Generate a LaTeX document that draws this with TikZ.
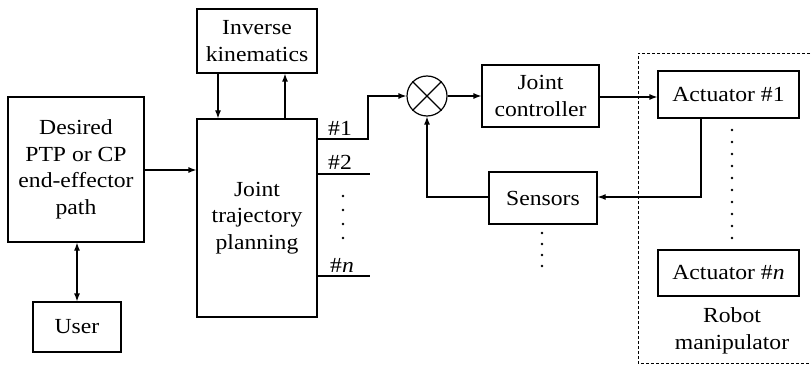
\documentclass[tikz,border=0pt]{standalone}
\usepackage{fontspec}
\setmainfont{Liberation Serif}[FakeStretch=1.1]
\usetikzlibrary{arrows.meta}
\begin{document}
\begin{tikzpicture}[x=1pt,y=-1pt,
  line width=1.2pt,
  font=\fontsize{21.5}{26.5}\selectfont,
  blk/.style={draw, rectangle, align=center, inner sep=0pt},
  arr/.style={-{Latex[length=8pt,width=6pt]}},
  dbl/.style={{Latex[length=8pt,width=6pt]}-{Latex[length=8pt,width=6pt]}},
  lbl/.style={inner sep=0pt},
  dotmark/.style={fill, circle, inner sep=0pt, minimum size=2.6pt}
]
\useasboundingbox (0,0) rectangle (811,366);

% blocks
\node[blk, minimum width=136pt, minimum height=145pt] (des) at (76,169.5)
  {Desired\\PTP or CP\\end-effector\\path};
\node[blk, minimum width=88pt, minimum height=50pt] (user) at (77,327) {User};
\node[blk, minimum width=120pt, minimum height=64pt] (ik) at (257,41)
  {Inverse\\kinematics};
\node[blk, minimum width=120pt, minimum height=198pt] (jtp) at (257,218)
  {Joint\\trajectory\\planning};
\node[draw, circle, minimum size=40pt, inner sep=0pt] (sum) at (427,96) {};
\draw (sum.north east) -- (sum.south west) (sum.north west) -- (sum.south east);
\node[blk, minimum width=117pt, minimum height=62pt] (jc) at (540.5,96)
  {Joint\\controller};
\node[blk, minimum width=141pt, minimum height=47pt] (act1) at (728.5,94.5)
  {Actuator \#1};
\node[blk, minimum width=108pt, minimum height=52pt] (sens) at (543,198)
  {Sensors};
\node[blk, minimum width=141pt, minimum height=46pt] (actn) at (728.5,273)
  {Actuator \#\textit{n}};
\node[lbl, align=center] (robot) at (732,331) {Robot\\manipulator};

% robot manipulator enclosure
\draw[dashed, dash pattern=on 3pt off 2pt, line width=0.9pt]
  (815,53) -- (638,53) -- (638,363) -- (815,363);

% joint outputs
\node[lbl] (l1) at (340,128) {\#1};
\node[lbl] (l2) at (340,162) {\#2};
\node[lbl] (ln) at (342,265) {\#\textit{n}};
\coordinate (o1) at (jtp.east |- 0,139);
\coordinate (b1) at (368,139);
\coordinate (o2) at (jtp.east |- 0,174);
\coordinate (e2) at (370,174);
\coordinate (on) at (jtp.east |- 0,276);
\coordinate (en) at (370,276);
\draw[arr] (o1) -- (b1) |- (sum.west);
\draw (o2) -- (e2);
\draw (on) -- (en);
\foreach \yy in {196,210,224,238}
  \node[dotmark] at (343,\yy) {};

% planning connections
\draw[arr] (des.east |- 0,170) -- (jtp.west |- 0,170);
\draw[dbl] (user.north |- des.south) -- (user.north);
\draw[arr] (ik.south -| 218,0) -- (jtp.north -| 218,0);
\draw[arr] (jtp.north -| 285,0) -- (ik.south -| 285,0);

% control loop
\draw[arr] (sum.east) -- (jc.west |- sum.east);
\draw[arr] (jc.east |- 0,97) -- (act1.west |- 0,97);
\coordinate (fb) at (701,197);
\draw[arr] (act1.south -| fb) -- (fb) -- (sens.east |- fb);
\draw[arr] (sens.west |- fb) -| (sum.south);

% continuation dots
\foreach \yy in {233,244,255,266}
  \node[dotmark] at (542,\yy) {};
\foreach \yy in {130,142,154,166,178,190,202,214,226,238}
  \node[dotmark] at (732,\yy) {};
\end{tikzpicture}
\end{document}
